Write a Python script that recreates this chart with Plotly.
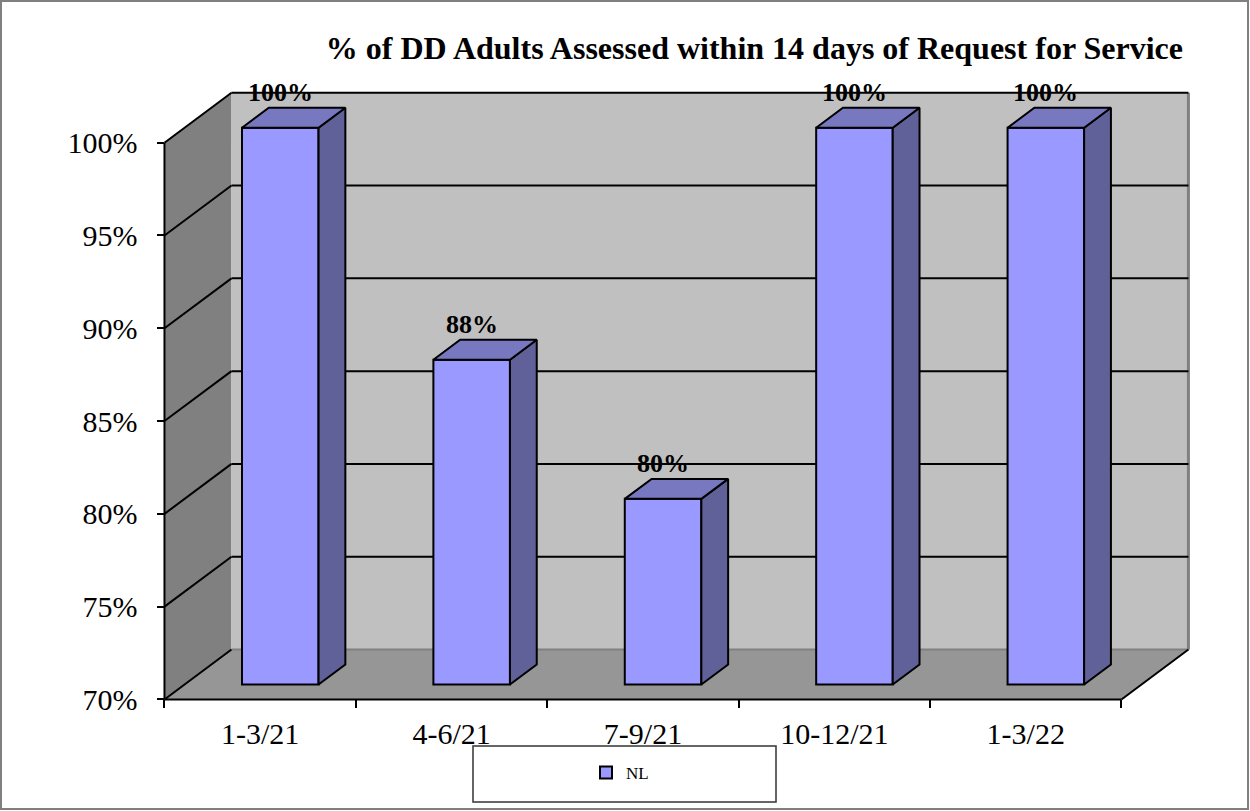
import plotly.graph_objects as go

# ---- data -------------------------------------------------------------
categories = ["1-3/21", "4-6/21", "7-9/21", "10-12/21", "1-3/22"]
values = [100, 87.5, 80, 100, 100]          # percent assessed within 14 days
y_ticks = [70, 75, 80, 85, 90, 95, 100]
y_tick_labels = [f"{v}%" for v in y_ticks]
series_name = "NL"
title_text = "% of DD Adults Assessed within 14 days of Request for Service"

# ---- 3-D look (oblique projection in data units) ----------------------
Y_FLOOR, Y_TOP = y_ticks[0], y_ticks[-1]
DX, DY = 0.35, 2.69          # full depth offset (x in categories, y in %)
FRONT, BACK = 0.3, 0.7       # depth fraction of bar front / back faces
BAR_W = 0.4

FONT = "Liberation Serif"
WALL_SIDE = "#808080"
WALL_BACK = "#C0C0C0"
FLOOR = "#969696"
BAR_FRONT = "#9999FF"
BAR_SIDE = "#616199"
BAR_TOP = "#7878C0"

W, H = 1250, 811
X_RANGE = [-0.56, 4.9]
Y_RANGE = [69.7, 103.0]
ML, MR, MT, MB = 153, 52, 87, 106
PW, PH = W - ML - MR, H - MT - MB


def paper_x(px):
    return (px - ML) / PW


def paper_y(py):
    return (H - MB - py) / PH


def path(pts):
    return "M " + " L ".join(f"{x},{y}" for x, y in pts) + " Z"


def seg(x0, y0, x1, y1, color="black", width=2, layer="below"):
    return dict(type="line", xref="x", yref="y", x0=x0, y0=y0, x1=x1, y1=y1,
                line=dict(color=color, width=width), layer=layer)


n = len(categories)
xl, xr = -0.5, n - 0.5

shapes = []
# side wall, back wall, floor
shapes.append(dict(type="path", xref="x", yref="y", layer="below", line_width=0,
                   fillcolor=WALL_SIDE,
                   path=path([(xl, Y_FLOOR), (xl, Y_TOP), (xl + DX, Y_TOP + DY),
                              (xl + DX, Y_FLOOR + DY)])))
shapes.append(dict(type="rect", xref="x", yref="y", layer="below", line_width=0,
                   fillcolor=WALL_BACK, x0=xl + DX, x1=xr + DX,
                   y0=Y_FLOOR + DY, y1=Y_TOP + DY))
shapes.append(dict(type="path", xref="x", yref="y", layer="below", line_width=0,
                   fillcolor=FLOOR,
                   path=path([(xl, Y_FLOOR), (xr, Y_FLOOR), (xr + DX, Y_FLOOR + DY),
                              (xl + DX, Y_FLOOR + DY)])))
# wall / floor edges
shapes.append(seg(xr + DX, Y_FLOOR + DY, xr + DX, Y_TOP + DY, WALL_SIDE, 3))
shapes.append(seg(xl + DX, Y_FLOOR + DY, xr + DX, Y_FLOOR + DY, WALL_SIDE, 2))
# gridlines across side wall and back wall
for v in y_ticks:
    shapes.append(seg(xl, v, xl + DX, v + DY))
    if v != Y_FLOOR:
        shapes.append(seg(xl + DX, v + DY, xr + DX, v + DY))
shapes.append(seg(xl, Y_FLOOR, xr, Y_FLOOR))
shapes.append(seg(xr, Y_FLOOR, xr + DX, Y_FLOOR + DY))
shapes.append(seg(xl, Y_FLOOR, xl, Y_TOP))

# legend box and outer frame
shapes.append(dict(type="rect", xref="paper", yref="paper", layer="above",
                   x0=paper_x(473), x1=paper_x(776), y0=paper_y(802), y1=paper_y(746),
                   fillcolor="white", line=dict(color="#333333", width=1.5)))
shapes.append(dict(type="rect", xref="paper", yref="paper", layer="below",
                   x0=paper_x(1), x1=paper_x(1248), y0=paper_y(809), y1=paper_y(1),
                   fillcolor="rgba(0,0,0,0)", line=dict(color="#808080", width=2)))

fig = go.Figure()

# bar front faces
bar_x = [i + FRONT * DX for i in range(n)]
fig.add_trace(go.Bar(
    x=bar_x, y=[v - Y_FLOOR for v in values], base=Y_FLOOR + FRONT * DY,
    width=BAR_W, name=series_name, hoverinfo="skip",
    marker=dict(color=BAR_FRONT, line=dict(color="black", width=2)),
))

# bar side and top faces
side_x, side_y, top_x, top_y = [], [], [], []
for i, v in enumerate(values):
    fl = i + FRONT * DX - BAR_W / 2
    fr = i + FRONT * DX + BAR_W / 2
    side_x += [fr, fr, fr + (BACK - FRONT) * DX, fr + (BACK - FRONT) * DX, fr, None]
    side_y += [Y_FLOOR + FRONT * DY, v + FRONT * DY, v + BACK * DY,
               Y_FLOOR + BACK * DY, Y_FLOOR + FRONT * DY, None]
    top_x += [fl, fr, fr + (BACK - FRONT) * DX, fl + (BACK - FRONT) * DX, fl, None]
    top_y += [v + FRONT * DY, v + FRONT * DY, v + BACK * DY, v + BACK * DY,
              v + FRONT * DY, None]

fig.add_trace(go.Scatter(x=side_x, y=side_y, mode="lines", fill="toself",
                         fillcolor=BAR_SIDE, line=dict(color="black", width=2),
                         showlegend=False, hoverinfo="skip"))
fig.add_trace(go.Scatter(x=top_x, y=top_y, mode="lines", fill="toself",
                         fillcolor=BAR_TOP, line=dict(color="black", width=2),
                         showlegend=False, hoverinfo="skip"))

# value labels
annotations = []
for i, v in enumerate(values):
    annotations.append(dict(
        x=i + FRONT * DX, y=v + BACK * DY, xref="x", yref="y",
        text=f"{v:.0f}%", showarrow=False, yanchor="bottom", xanchor="center",
        yshift=-1,
        font=dict(family=FONT, size=26, color="black", weight="bold"),
    ))

fig.update_layout(
    width=W, height=H,
    margin=dict(l=ML, r=MR, t=MT, b=MB),
    paper_bgcolor="white", plot_bgcolor="rgba(0,0,0,0)",
    shapes=shapes, annotations=annotations,
    title=dict(text=title_text, xref="container", yref="container",
               x=1183 / W, xanchor="right", y=1 - 48 / H, yanchor="middle",
               font=dict(family=FONT, size=32, color="black", weight="bold")),
    showlegend=True,
    legend=dict(x=paper_x(620), xanchor="center", y=paper_y(773), yanchor="middle",
                bgcolor="rgba(0,0,0,0)", borderwidth=0,
                font=dict(family=FONT, size=17, color="black")),
    xaxis=dict(range=X_RANGE, anchor="free",
               position=(Y_FLOOR - Y_RANGE[0]) / (Y_RANGE[1] - Y_RANGE[0]),
               tickmode="array", tickvals=list(range(n)), ticktext=categories,
               ticks="", showgrid=False, zeroline=False, showline=False,
               ticklabelstandoff=14,
               tickfont=dict(family=FONT, size=30, color="black"),
               minor=dict(tickmode="array", tickvals=[i - 0.5 for i in range(n + 1)],
                          ticks="outside", ticklen=8, tickwidth=1.5,
                          tickcolor="black", showgrid=False)),
    yaxis=dict(range=Y_RANGE, anchor="free",
               position=(xl - X_RANGE[0]) / (X_RANGE[1] - X_RANGE[0]),
               tickmode="array", tickvals=y_ticks, ticktext=y_tick_labels,
               ticks="outside", ticklen=7, tickwidth=1.5, tickcolor="black",
               ticklabelstandoff=14,
               showgrid=False, zeroline=False, showline=False,
               tickfont=dict(family=FONT, size=30, color="black")),
)

fig.write_html("out.html")
